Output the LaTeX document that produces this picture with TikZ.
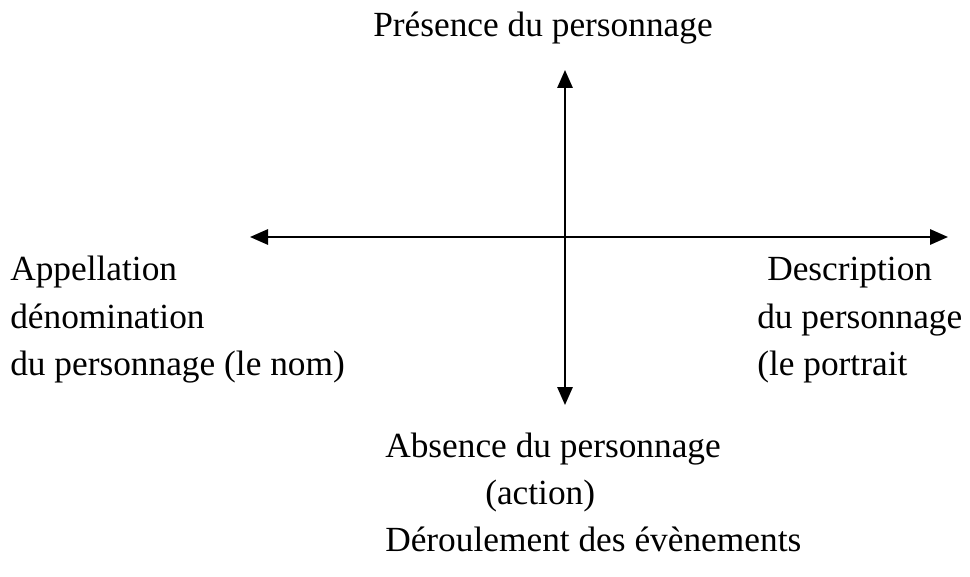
\documentclass[tikz,border=0pt]{standalone}
\usepackage{fontspec}
\setmainfont{Liberation Serif}
\usetikzlibrary{arrows.meta}
\begin{document}
\begin{tikzpicture}[x=0.75pt,y=-0.75pt,
  lbl/.style={inner sep=0pt, anchor=base west, font=\fontsize{26.5}{32}\selectfont},
  axis/.style={line width=1.5pt, {Triangle[length=13.5pt,width=11.5pt]}-{Triangle[length=13.5pt,width=11.5pt]}}]
\useasboundingbox (0,0) rectangle (970,577);
\coordinate (top) at (565,70);
\coordinate (bottom) at (565,405);
\coordinate (left) at (250,237);
\coordinate (right) at (948,237);
\draw[axis] (bottom) -- (top);
\draw[axis] (left) -- (right);
\node[lbl] (pres) at (373,37) {Présence du personnage};
\node[lbl] (l1) at (10,281) {Appellation};
\node[lbl] (l2) at (10,328) {dénomination};
\node[lbl] (l3) at (10,375) {du personnage (le nom)};
\node[lbl] (r1) at (767,281) {Description};
\node[lbl] (r2) at (757,328) {du personnage};
\node[lbl] (r3) at (757,375) {(le portrait};
\node[lbl] (b1) at (385,457) {Absence du personnage};
\node[lbl] (b2) at (485,504) {(action)};
\node[lbl] (b3) at (385,551) {Déroulement des évènements};
\end{tikzpicture}
\end{document}
